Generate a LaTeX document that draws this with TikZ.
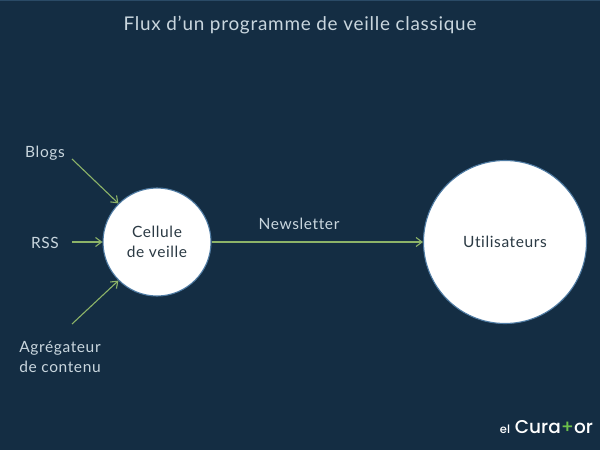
\documentclass[tikz,border=0pt]{standalone}
\usepackage{fontspec}
\setmainfont[LetterSpace=4,Ligatures=NoCommon]{Lato}
\newfontfamily\logofont{Poppins Medium}
\usepackage{tikz}
\usetikzlibrary{arrows.meta, positioning}
\usepackage{xcolor}
\definecolor{nightblue}{HTML}{142D43}
\definecolor{topblue}{HTML}{2A4A66}
\definecolor{ringblue}{HTML}{4F7BA3}
\definecolor{paletext}{HTML}{C9D6DE}
\definecolor{darktext}{HTML}{2B3A44}
\definecolor{leafgreen}{HTML}{8DB368}
\definecolor{logogreen}{HTML}{6CC04A}

\begin{document}
\begin{tikzpicture}[x=1pt, y=-1pt,
    bubble/.style={circle, draw=ringblue, fill=white, line width=1.1pt, inner sep=0pt, align=center, text=darktext, font=\fontsize{15.5}{20}\selectfont},
    source/.style={align=center, text=paletext, font=\fontsize{15.5}{20}\selectfont, inner sep=0pt},
    link/.style={draw=leafgreen, line width=1.1pt, -{Straight Barb[length=6pt,width=9pt]}}]
\useasboundingbox (0,0) rectangle (600,450);
\fill[nightblue] (0,0) rectangle (600,450);
\fill[topblue] (0,0) rectangle (600,1.2);
\node[text=paletext, font=\fontsize{18.9}{24}\selectfont, inner sep=0pt] (title) at (300,25) {Flux d’un programme de veille classique};
\node[bubble, minimum size=108pt] (cell) at (157,242) {Cellule\\de veille};
\node[bubble, minimum size=163pt] (users) at (505,242) {Utilisateurs};
\node[source] (blogs) at (45,153) {Blogs};
\node[source] (rss) at (45,242.5) {RSS};
\node[source] (aggregator) at (60,356.5) {Agrégateur\\de contenu};
\node[source] (news) at (299,223.5) {Newsletter};
\coordinate (blogsend) at (72,159);
\coordinate (rssend) at (72,242);
\coordinate (aggend) at (72,324);
\draw[link] (blogsend) -- (cell.135);
\draw[link] (rssend) -- (cell.180);
\draw[link] (aggend) -- (cell.225);
\draw[link] (cell) -- (users);
\node[text=white, inner sep=0pt, font=\logofont\fontsize{18.5}{20}\selectfont] (logo) at (546.5,427) {{\fontsize{11.5}{12}\selectfont el} Cura{\color{logogreen}+}or};
\end{tikzpicture}
\end{document}
